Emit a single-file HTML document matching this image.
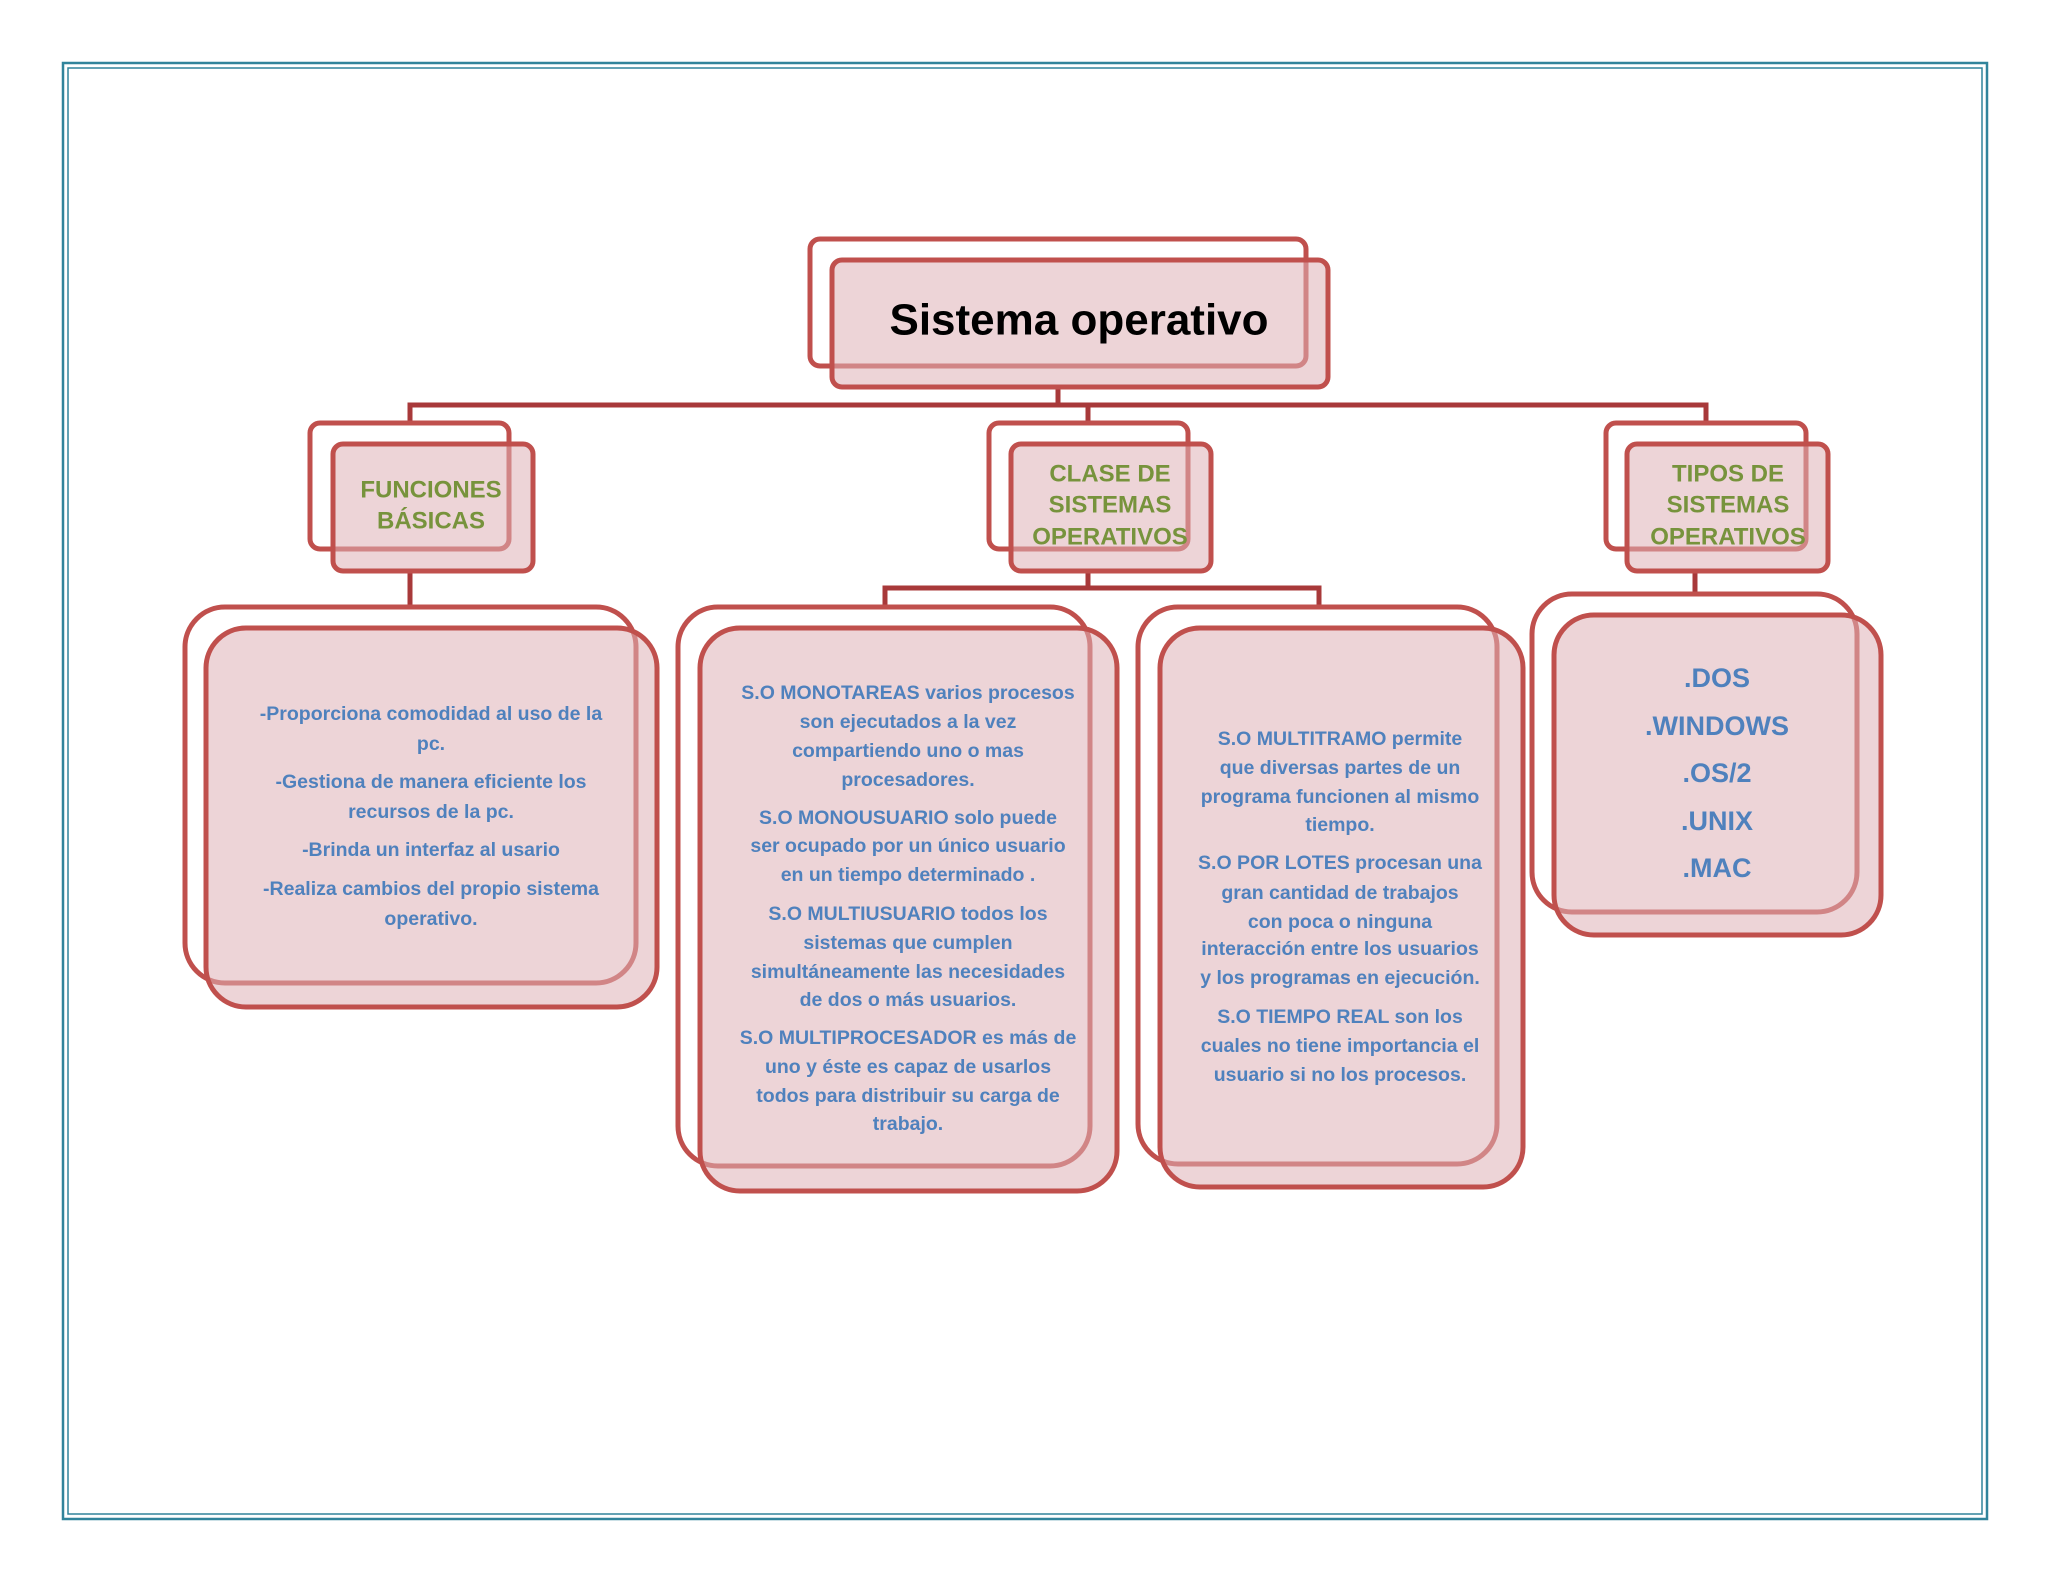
<!DOCTYPE html>
<html><head><meta charset="utf-8"><style>
html,body{margin:0;padding:0;background:#fff;}
svg{display:block}
.t{font-family:"Liberation Sans",sans-serif;font-weight:bold;fill:#4F81BD;font-size:19.5px;text-anchor:middle;dominant-baseline:central}
.g{font-family:"Liberation Sans",sans-serif;font-weight:bold;fill:#77933C;font-size:24px;text-anchor:middle;dominant-baseline:central}
.b{fill:#fff;stroke:#C0504D;stroke-width:5}
.f{fill:rgba(222,176,182,0.55);stroke:#C0504D;stroke-width:5}
.l{stroke:#A8393A;stroke-width:5;fill:none}
</style></head><body>
<svg width="2048" height="1582" viewBox="0 0 2048 1582" xmlns="http://www.w3.org/2000/svg">
<rect x="0" y="0" width="2048" height="1582" fill="#fff"/>
<rect x="63" y="63" width="1924" height="1456" fill="none" stroke="#31849B" stroke-width="2.5"/>
<rect x="68" y="68" width="1914" height="1446" fill="none" stroke="#31849B" stroke-width="1.5"/>
<!-- connectors -->
<path class="l" d="M1058 387V405M410 422V405H1706V422M1088 405V422M410 571V606M1088 571V588M885 606V588H1319V606M1695 571V593"/>
<!-- root -->
<rect class="b" x="810" y="239" width="496" height="127" rx="10"/>
<rect class="f" x="832" y="260" width="496" height="127" rx="10"/>
<text x="1079" y="320" font-family="Liberation Sans,sans-serif" font-weight="bold" font-size="44" text-anchor="middle" dominant-baseline="central" fill="#000">Sistema operativo</text>
<!-- level 2 -->
<rect class="b" x="310" y="423" width="199" height="126" rx="10"/>
<rect class="f" x="333" y="444" width="200" height="127" rx="10"/>
<text class="g" x="431" y="490">FUNCIONES</text><text class="g" x="431" y="521">BÁSICAS</text>
<rect class="b" x="989" y="423" width="199" height="126" rx="10"/>
<rect class="f" x="1011" y="444" width="200" height="127" rx="10"/>
<text class="g" x="1110" y="474">CLASE DE</text><text class="g" x="1110" y="505">SISTEMAS</text><text class="g" x="1110" y="537">OPERATIVOS</text>
<rect class="b" x="1606" y="423" width="200" height="126" rx="10"/>
<rect class="f" x="1627" y="444" width="201" height="127" rx="10"/>
<text class="g" x="1728" y="474">TIPOS DE</text><text class="g" x="1728" y="505">SISTEMAS</text><text class="g" x="1728" y="537">OPERATIVOS</text>
<!-- leaves -->
<rect class="b" x="185" y="607" width="451" height="376" rx="40"/>
<rect class="f" x="206" y="628" width="451" height="379" rx="40"/>
<rect class="b" x="678" y="607" width="412" height="559" rx="40"/>
<rect class="f" x="700" y="628" width="417" height="563" rx="40"/>
<rect class="b" x="1138" y="607" width="359" height="557" rx="40"/>
<rect class="f" x="1160" y="628" width="363" height="559" rx="40"/>
<rect class="b" x="1532" y="594" width="325" height="318" rx="40"/>
<rect class="f" x="1554" y="615" width="327" height="320" rx="40"/>
<g class="t">
<text class="t" x="431" y="714">-Proporciona comodidad al uso de la</text>
<text class="t" x="431" y="744">pc.</text>
<text class="t" x="431" y="782">-Gestiona de manera eficiente los</text>
<text class="t" x="431" y="812">recursos de la pc.</text>
<text class="t" x="431" y="850">-Brinda un interfaz al usario</text>
<text class="t" x="431" y="889">-Realiza cambios del propio sistema</text>
<text class="t" x="431" y="919">operativo.</text>

<text class="t" x="908" y="693">S.O MONOTAREAS varios procesos</text>
<text class="t" x="908" y="722">son ejecutados a la vez</text>
<text class="t" x="908" y="751">compartiendo uno o mas</text>
<text class="t" x="908" y="780">procesadores.</text>
<text class="t" x="908" y="818">S.O MONOUSUARIO  solo puede</text>
<text class="t" x="908" y="846">ser ocupado por un único usuario</text>
<text class="t" x="908" y="875">en un tiempo determinado .</text>
<text class="t" x="908" y="914">S.O MULTIUSUARIO  todos los</text>
<text class="t" x="908" y="943">sistemas que cumplen</text>
<text class="t" x="908" y="972">simultáneamente las necesidades</text>
<text class="t" x="908" y="1000">de dos o más usuarios.</text>
<text class="t" x="908" y="1038">S.O MULTIPROCESADOR  es más de</text>
<text class="t" x="908" y="1067">uno y éste es capaz de usarlos</text>
<text class="t" x="908" y="1096">todos para distribuir su carga de</text>
<text class="t" x="908" y="1124">trabajo.</text>

<text class="t" x="1340" y="739">S.O MULTITRAMO  permite</text>
<text class="t" x="1340" y="768">que diversas partes de un</text>
<text class="t" x="1340" y="797">programa funcionen al mismo</text>
<text class="t" x="1340" y="825">tiempo.</text>
<text class="t" x="1340" y="863">S.O POR LOTES  procesan una</text>
<text class="t" x="1340" y="893">gran cantidad de trabajos</text>
<text class="t" x="1340" y="922">con poca o ninguna</text>
<text class="t" x="1340" y="949">interacción entre los usuarios</text>
<text class="t" x="1340" y="978">y los programas en ejecución.</text>
<text class="t" x="1340" y="1017">S.O TIEMPO REAL son los</text>
<text class="t" x="1340" y="1046">cuales no tiene importancia el</text>
<text class="t" x="1340" y="1075">usuario si no los procesos.</text>
</g>
<g>
<text class="t" style="font-size:27px" x="1717" y="678">.DOS</text>
<text class="t" style="font-size:27px" x="1717" y="726">.WINDOWS</text>
<text class="t" style="font-size:27px" x="1717" y="773">.OS/2</text>
<text class="t" style="font-size:27px" x="1717" y="821">.UNIX</text>
<text class="t" style="font-size:27px" x="1717" y="868">.MAC</text>
</g>
</svg>
</body></html>
